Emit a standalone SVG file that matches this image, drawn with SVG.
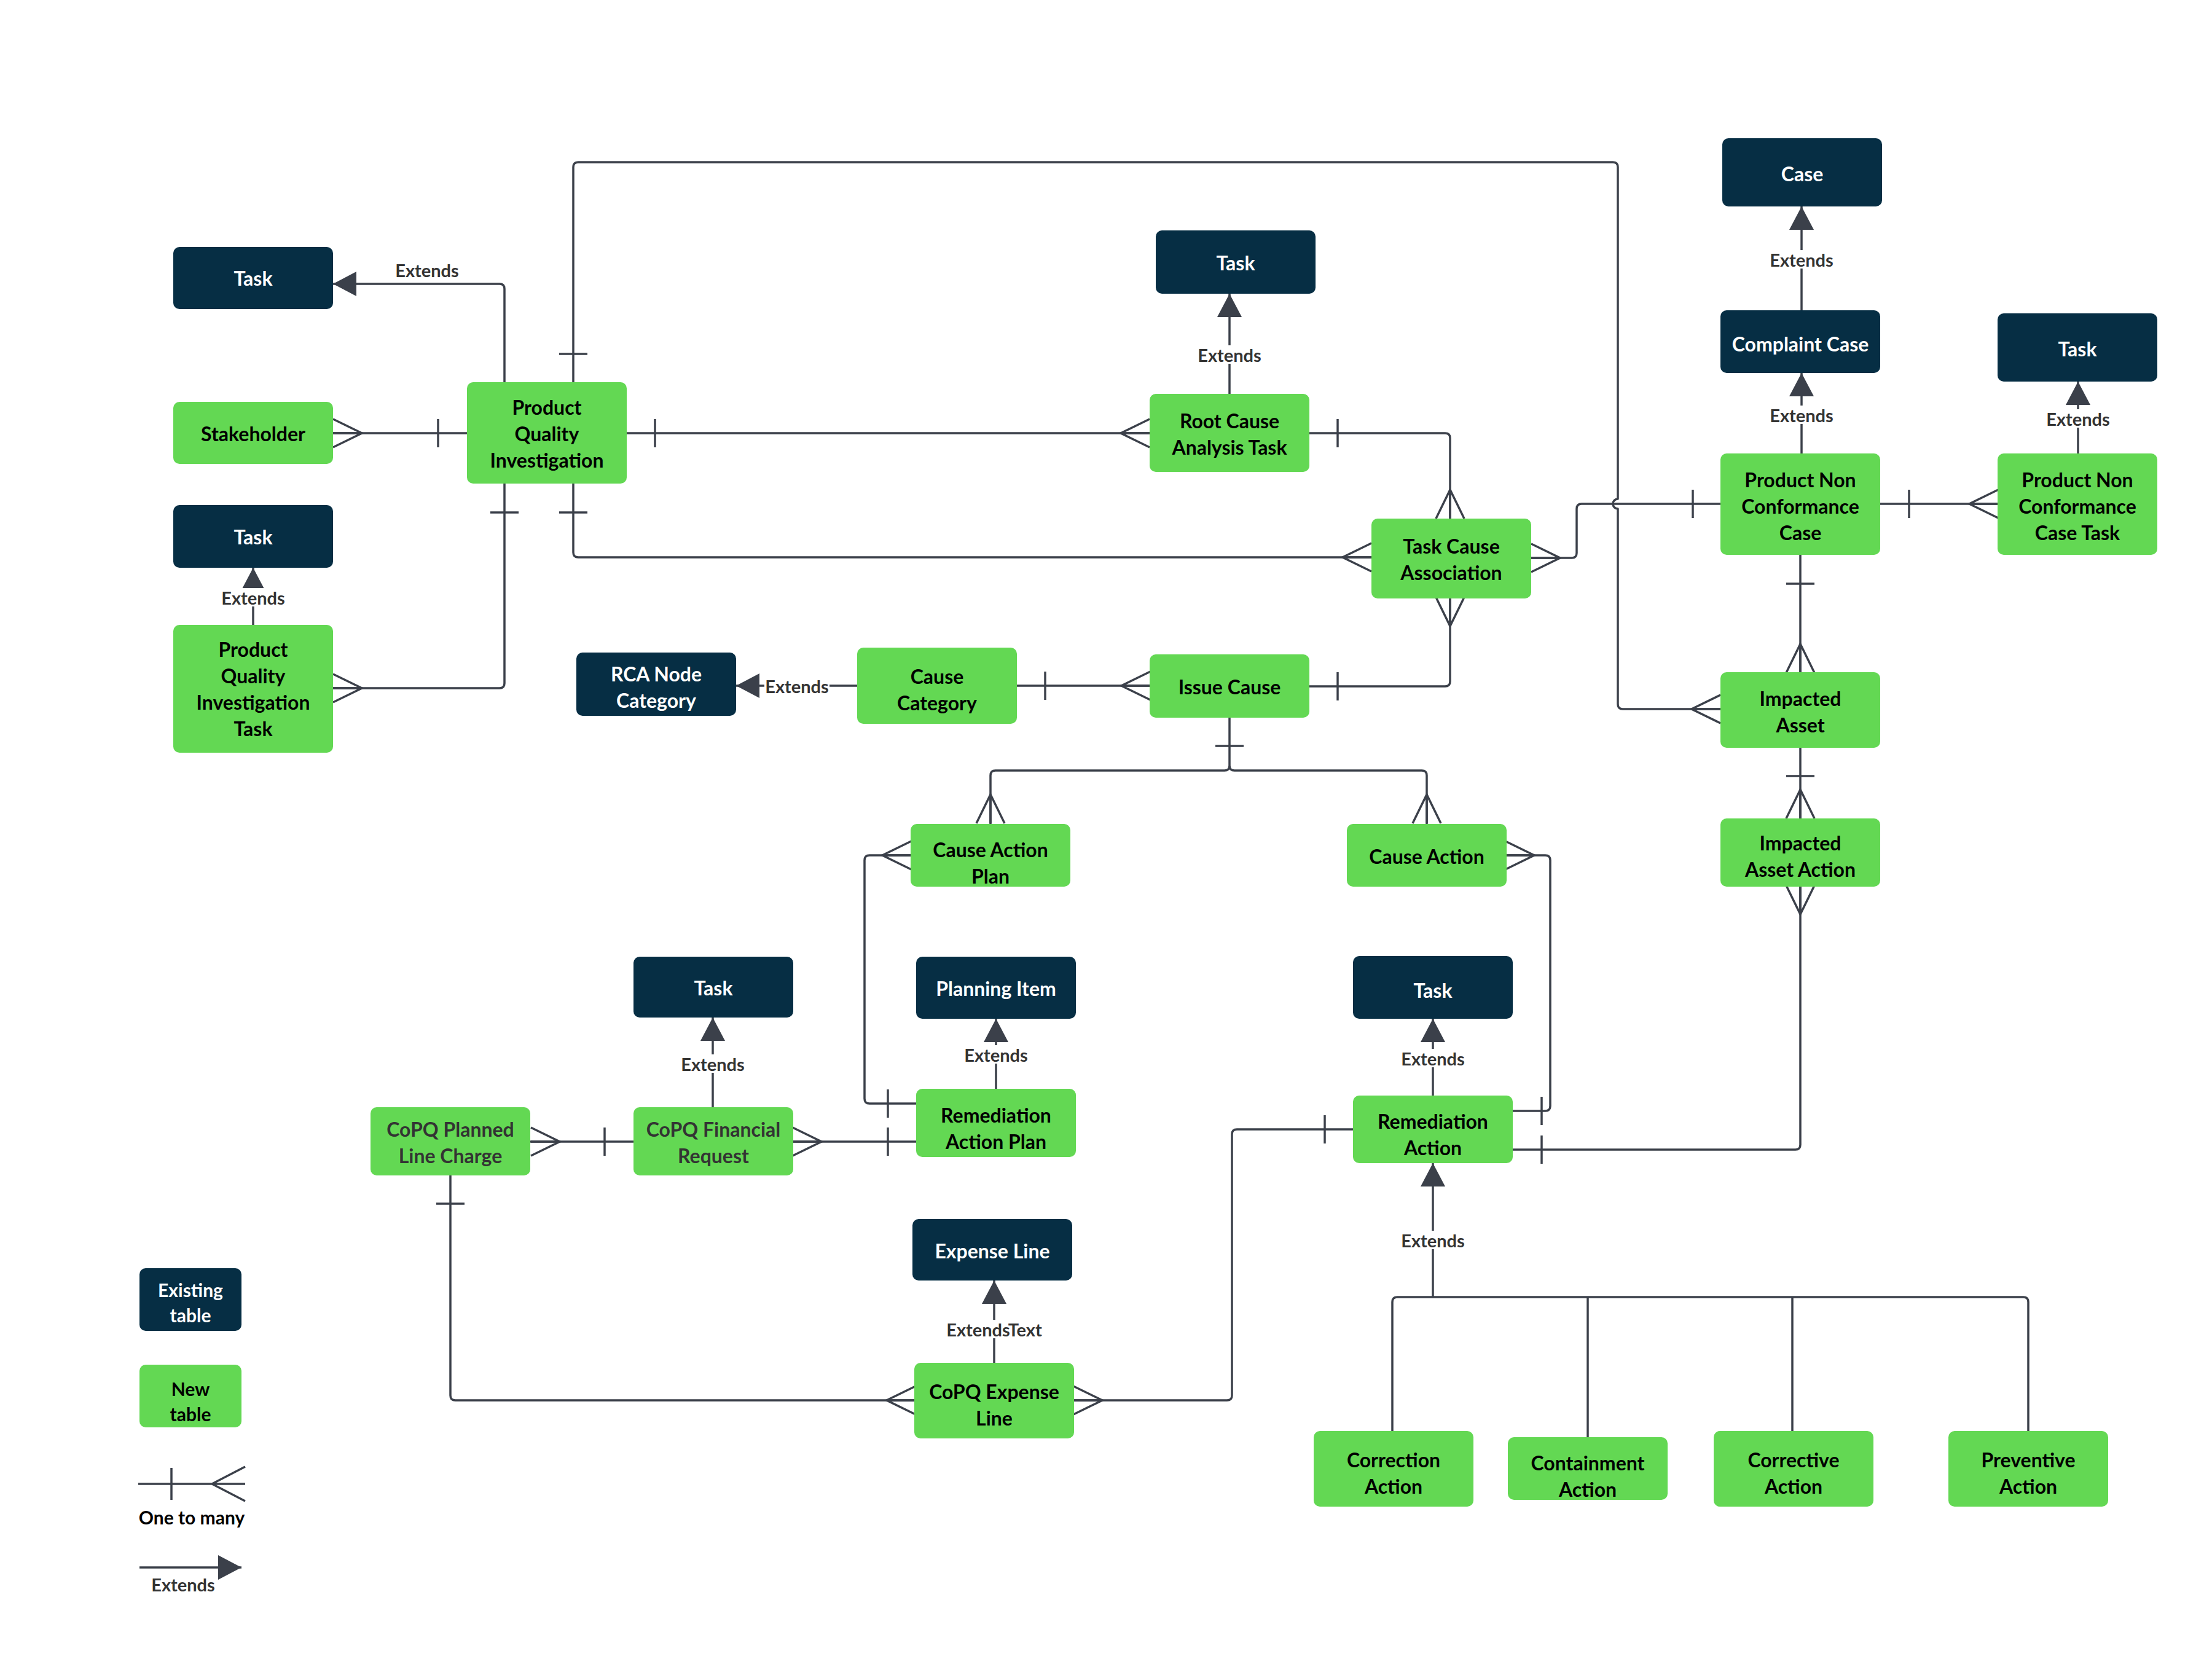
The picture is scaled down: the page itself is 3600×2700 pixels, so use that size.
<svg xmlns="http://www.w3.org/2000/svg" xmlns:xlink="http://www.w3.org/1999/xlink" width="3600" height="2700" viewBox="0 0 3600 2700">
<style>
.dark{fill:#062e44}
.green{fill:#63d853}
.node text{font-family:"Lato","Liberation Sans",sans-serif;font-weight:700;font-size:32px;text-anchor:middle;dominant-baseline:central}
.tw{fill:#ffffff}
.tb{fill:#000000}
.tg{fill:#333333}
.ln{fill:none;stroke:#3b404a;stroke-width:3.5;stroke-linejoin:round}
.lbl{font-family:"Lato","Liberation Sans",sans-serif;font-weight:700;font-size:29px;fill:#333333;text-anchor:middle;dominant-baseline:central}
.bg{fill:#ffffff}
</style>
<defs>
<marker id="ext" markerUnits="userSpaceOnUse" viewBox="0 0 38 40" refX="38" refY="20" markerWidth="38" markerHeight="40" orient="auto">
<path d="M0,0 L38,20 L0,40 Z" fill="#3b404a"/>
</marker>
<path id="crow" d="M47,-23 L0,0 L47,23 M0,0 H47" fill="none" stroke="#3b404a" stroke-width="3.5"/>
<path id="tick" d="M0,-23 V23" fill="none" stroke="#3b404a" stroke-width="3.5"/>
</defs>
<rect width="3600" height="2700" fill="#ffffff"/>

<g id="connectors">
<path class="ln" d="M821,622 V470 Q821,462 813,462 H542" marker-end="url(#ext)"/>
<text class="lbl" x="695" y="439">Extends</text>
<path class="ln" d="M542,705 H760"/>
<use href="#crow" transform="translate(589,705) rotate(180)"/>
<use href="#tick" transform="translate(713,705)"/>
<path class="ln" d="M1020,705 H1871"/>
<use href="#tick" transform="translate(1066,705)"/>
<use href="#crow" transform="translate(1824,705)"/>
<path class="ln" d="M821,787 V1112 Q821,1120 813,1120 H542"/>
<use href="#tick" transform="translate(821,834) rotate(90)"/>
<use href="#crow" transform="translate(589,1120) rotate(180)"/>
<path class="ln" d="M933,787 V899 Q933,907 941,907 H2232"/>
<use href="#tick" transform="translate(933,834) rotate(90)"/>
<use href="#crow" transform="translate(2185,907)"/>
<path class="ln" d="M933,622 V272 Q933,264 941,264 H2625 Q2633,264 2633,272 V812 A8,8 0 0 0 2633,828 V1146 Q2633,1154 2641,1154 H2800"/>
<use href="#tick" transform="translate(933,576) rotate(90)"/>
<use href="#crow" transform="translate(2753,1154)"/>
<path class="ln" d="M2131,705 H2352 Q2360,705 2360,713 V844"/>
<use href="#tick" transform="translate(2177,705)"/>
<use href="#crow" transform="translate(2360,797) rotate(90)"/>
<path class="ln" d="M2491,908 H2558 Q2566,908 2566,900 V828 Q2566,820 2574,820 H2800"/>
<use href="#crow" transform="translate(2539,908) rotate(180)"/>
<use href="#tick" transform="translate(2755,820)"/>
<path class="ln" d="M2360,974 V1109 Q2360,1117 2352,1117 H2131"/>
<use href="#crow" transform="translate(2360,1019) rotate(-90)"/>
<use href="#tick" transform="translate(2177,1117)"/>
<path class="ln" d="M1655,1116 H1871"/>
<use href="#tick" transform="translate(1701,1116)"/>
<use href="#crow" transform="translate(1825,1116)"/>
<path class="ln" d="M1395,1116 H1198" marker-end="url(#ext)"/>
<rect class="bg" x="1244" y="1100" width="106" height="32"/>
<text class="lbl" x="1297" y="1116">Extends</text>
<path class="ln" d="M2001,1168 V1246 Q2001,1254 1993,1254 H1620 Q1612,1254 1612,1262 V1341 M2001,1246 Q2001,1254 2009,1254 H2314 Q2322,1254 2322,1262 V1341"/>
<use href="#tick" transform="translate(2001,1214) rotate(90)"/>
<use href="#crow" transform="translate(1612,1293) rotate(90)"/>
<use href="#crow" transform="translate(2322,1293) rotate(90)"/>
<path class="ln" d="M1482,1392 H1415 Q1407,1392 1407,1400 V1788 Q1407,1796 1415,1796 H1491"/>
<use href="#crow" transform="translate(1436,1392)"/>
<use href="#tick" transform="translate(1445,1796)"/>
<path class="ln" d="M2452,1392 H2515 Q2523,1392 2523,1400 V1800 Q2523,1808 2515,1808 H2462"/>
<use href="#crow" transform="translate(2497,1392) rotate(180)"/>
<use href="#tick" transform="translate(2509,1808)"/>
<path class="ln" d="M2930,903 V1094"/>
<use href="#tick" transform="translate(2930,950) rotate(90)"/>
<use href="#crow" transform="translate(2930,1048) rotate(90)"/>
<path class="ln" d="M2930,1217 V1332"/>
<use href="#tick" transform="translate(2930,1263) rotate(90)"/>
<use href="#crow" transform="translate(2930,1285) rotate(90)"/>
<path class="ln" d="M2930,1443 V1863 Q2930,1871 2922,1871 H2462"/>
<use href="#crow" transform="translate(2930,1488) rotate(-90)"/>
<use href="#tick" transform="translate(2509,1871)"/>
<path class="ln" d="M3060,820 H3251"/>
<use href="#tick" transform="translate(3107,820)"/>
<use href="#crow" transform="translate(3205,820)"/>
<path class="ln" d="M863,1858 H1031"/>
<use href="#crow" transform="translate(911,1858) rotate(180)"/>
<use href="#tick" transform="translate(984,1858)"/>
<path class="ln" d="M1290,1858 H1491"/>
<use href="#crow" transform="translate(1337,1858) rotate(180)"/>
<use href="#tick" transform="translate(1445,1858)"/>
<path class="ln" d="M733,1913 V2271 Q733,2279 741,2279 H1488"/>
<use href="#tick" transform="translate(733,1959) rotate(90)"/>
<use href="#crow" transform="translate(1443,2279)"/>
<path class="ln" d="M1747,2279 H1997 Q2005,2279 2005,2271 V1846 Q2005,1838 2013,1838 H2202"/>
<use href="#crow" transform="translate(1794,2279) rotate(180)"/>
<use href="#tick" transform="translate(2156,1838)"/>

<path class="ln" d="M412,1017 V924" marker-end="url(#ext)"/>
<rect class="bg" x="359" y="957" width="106" height="30"/>
<text class="lbl" x="412" y="972">Extends</text>
<path class="ln" d="M2001,641 V478" marker-end="url(#ext)"/>
<rect class="bg" x="1948" y="562" width="106" height="30"/>
<text class="lbl" x="2001" y="577">Extends</text>
<path class="ln" d="M2932,505 V336" marker-end="url(#ext)"/>
<rect class="bg" x="2879" y="407" width="106" height="30"/>
<text class="lbl" x="2932" y="422">Extends</text>
<path class="ln" d="M2932,738 V607" marker-end="url(#ext)"/>
<rect class="bg" x="2879" y="660" width="106" height="30"/>
<text class="lbl" x="2932" y="675">Extends</text>
<path class="ln" d="M3382,738 V621" marker-end="url(#ext)"/>
<rect class="bg" x="3329" y="666" width="106" height="30"/>
<text class="lbl" x="3382" y="681">Extends</text>
<path class="ln" d="M1160,1802 V1656" marker-end="url(#ext)"/>
<rect class="bg" x="1107" y="1716" width="106" height="30"/>
<text class="lbl" x="1160" y="1731">Extends</text>
<path class="ln" d="M1621,1772 V1658" marker-end="url(#ext)"/>
<rect class="bg" x="1568" y="1701" width="106" height="30"/>
<text class="lbl" x="1621" y="1716">Extends</text>
<path class="ln" d="M2332,1783 V1658" marker-end="url(#ext)"/>
<rect class="bg" x="2279" y="1707" width="106" height="30"/>
<text class="lbl" x="2332" y="1722">Extends</text>
<path class="ln" d="M1618,2218 V2084" marker-end="url(#ext)"/>
<rect class="bg" x="1538" y="2148" width="160" height="30"/>
<text class="lbl" x="1618" y="2163">ExtendsText</text>
<path class="ln" d="M2332,2111 V1893" marker-end="url(#ext)"/>
<rect class="bg" x="2279" y="2003" width="106" height="30"/>
<text class="lbl" x="2332" y="2018">Extends</text>
<path class="ln" d="M2266,2329 V2119 Q2266,2111 2274,2111 H3293 Q3301,2111 3301,2119 V2329 M2584,2111 V2339 M2917,2111 V2329"/>
</g>

<g id="task-1" class="node"><rect class="dark" x="282" y="402" width="260" height="101" rx="10"/><text class="tw" x="412" y="452">Task</text></g>
<g id="stakeholder" class="node"><rect class="green" x="282" y="654" width="260" height="101" rx="10"/><text class="tb" x="412" y="705">Stakeholder</text></g>
<g id="task-2" class="node"><rect class="dark" x="282" y="822" width="260" height="102" rx="10"/><text class="tw" x="412" y="873">Task</text></g>
<g id="pqi-task" class="node"><rect class="green" x="282" y="1017" width="260" height="208" rx="10"/><text class="tb" x="412" y="1056">Product</text><text class="tb" x="412" y="1099">Quality</text><text class="tb" x="412" y="1142">Investigation</text><text class="tb" x="412" y="1185">Task</text></g>
<g id="pqi" class="node"><rect class="green" x="760" y="622" width="260" height="165" rx="10"/><text class="tb" x="890" y="662">Product</text><text class="tb" x="890" y="705">Quality</text><text class="tb" x="890" y="748">Investigation</text></g>
<g id="task-rca" class="node"><rect class="dark" x="1881" y="375" width="260" height="103" rx="10"/><text class="tw" x="2011" y="427">Task</text></g>
<g id="rca-task" class="node"><rect class="green" x="1871" y="641" width="260" height="127" rx="10"/><text class="tb" x="2001" y="684">Root Cause</text><text class="tb" x="2001" y="727">Analysis Task</text></g>
<g id="tca" class="node"><rect class="green" x="2232" y="844" width="260" height="130" rx="10"/><text class="tb" x="2362" y="888">Task Cause</text><text class="tb" x="2362" y="931">Association</text></g>
<g id="case" class="node"><rect class="dark" x="2803" y="225" width="260" height="111" rx="10"/><text class="tw" x="2933" y="282">Case</text></g>
<g id="complaint-case" class="node"><rect class="dark" x="2800" y="505" width="260" height="102" rx="10"/><text class="tw" x="2930" y="559">Complaint Case</text></g>
<g id="pnc-case" class="node"><rect class="green" x="2800" y="738" width="260" height="165" rx="10"/><text class="tb" x="2930" y="780">Product Non</text><text class="tb" x="2930" y="823">Conformance</text><text class="tb" x="2930" y="866">Case</text></g>
<g id="task-pnc" class="node"><rect class="dark" x="3251" y="510" width="260" height="111" rx="10"/><text class="tw" x="3381" y="567">Task</text></g>
<g id="pnc-case-task" class="node"><rect class="green" x="3251" y="738" width="260" height="165" rx="10"/><text class="tb" x="3381" y="780">Product Non</text><text class="tb" x="3381" y="823">Conformance</text><text class="tb" x="3381" y="866">Case Task</text></g>
<g id="impacted-asset" class="node"><rect class="green" x="2800" y="1094" width="260" height="123" rx="10"/><text class="tb" x="2930" y="1136">Impacted</text><text class="tb" x="2930" y="1179">Asset</text></g>
<g id="impacted-asset-action" class="node"><rect class="green" x="2800" y="1332" width="260" height="111" rx="10"/><text class="tb" x="2930" y="1371">Impacted</text><text class="tb" x="2930" y="1414">Asset Action</text></g>
<g id="rca-node-category" class="node"><rect class="dark" x="938" y="1062" width="260" height="103" rx="10"/><text class="tw" x="1068" y="1096">RCA Node</text><text class="tw" x="1068" y="1139">Category</text></g>
<g id="cause-category" class="node"><rect class="green" x="1395" y="1054" width="260" height="124" rx="10"/><text class="tb" x="1525" y="1100">Cause</text><text class="tb" x="1525" y="1143">Category</text></g>
<g id="issue-cause" class="node"><rect class="green" x="1871" y="1065" width="260" height="103" rx="10"/><text class="tb" x="2001" y="1117">Issue Cause</text></g>
<g id="cause-action-plan" class="node"><rect class="green" x="1482" y="1341" width="260" height="102" rx="10"/><text class="tb" x="1612" y="1382">Cause Action</text><text class="tb" x="1612" y="1425">Plan</text></g>
<g id="cause-action" class="node"><rect class="green" x="2192" y="1341" width="260" height="102" rx="10"/><text class="tb" x="2322" y="1393">Cause Action</text></g>
<g id="task-cfr" class="node"><rect class="dark" x="1031" y="1557" width="260" height="99" rx="10"/><text class="tw" x="1161" y="1607">Task</text></g>
<g id="planning-item" class="node"><rect class="dark" x="1491" y="1557" width="260" height="101" rx="10"/><text class="tw" x="1621" y="1608">Planning Item</text></g>
<g id="copq-planned-line-charge" class="node"><rect class="green" x="603" y="1802" width="260" height="111" rx="10"/><text class="tg" x="733" y="1837">CoPQ Planned</text><text class="tg" x="733" y="1880">Line Charge</text></g>
<g id="copq-financial-request" class="node"><rect class="green" x="1031" y="1802" width="260" height="111" rx="10"/><text class="tg" x="1161" y="1837">CoPQ Financial</text><text class="tg" x="1161" y="1880">Request</text></g>
<g id="remediation-action-plan" class="node"><rect class="green" x="1491" y="1772" width="260" height="111" rx="10"/><text class="tb" x="1621" y="1814">Remediation</text><text class="tb" x="1621" y="1857">Action Plan</text></g>
<g id="expense-line" class="node"><rect class="dark" x="1485" y="1984" width="260" height="100" rx="10"/><text class="tw" x="1615" y="2035">Expense Line</text></g>
<g id="copq-expense-line" class="node"><rect class="green" x="1488" y="2218" width="260" height="123" rx="10"/><text class="tb" x="1618" y="2264">CoPQ Expense</text><text class="tb" x="1618" y="2307">Line</text></g>
<g id="task-ra" class="node"><rect class="dark" x="2202" y="1556" width="260" height="102" rx="10"/><text class="tw" x="2332" y="1611">Task</text></g>
<g id="remediation-action" class="node"><rect class="green" x="2202" y="1783" width="260" height="110" rx="10"/><text class="tb" x="2332" y="1824">Remediation</text><text class="tb" x="2332" y="1867">Action</text></g>
<g id="correction-action" class="node"><rect class="green" x="2138" y="2329" width="260" height="123" rx="10"/><text class="tb" x="2268" y="2375">Correction</text><text class="tb" x="2268" y="2418">Action</text></g>
<g id="containment-action" class="node"><rect class="green" x="2454" y="2339" width="260" height="102" rx="10"/><text class="tb" x="2584" y="2380">Containment</text><text class="tb" x="2584" y="2423">Action</text></g>
<g id="corrective-action" class="node"><rect class="green" x="2789" y="2329" width="260" height="123" rx="10"/><text class="tb" x="2919" y="2375">Corrective</text><text class="tb" x="2919" y="2418">Action</text></g>
<g id="preventive-action" class="node"><rect class="green" x="3171" y="2329" width="260" height="123" rx="10"/><text class="tb" x="3301" y="2375">Preventive</text><text class="tb" x="3301" y="2418">Action</text></g>

<g id="legend">
<g id="legend-existing" class="node"><rect class="dark" x="227" y="2064" width="166" height="102" rx="10"/><text class="tw" x="310" y="2099" style="font-size:30px">Existing</text><text class="tw" x="310" y="2140" style="font-size:30px">table</text></g>
<g id="legend-new" class="node"><rect class="green" x="227" y="2221" width="166" height="102" rx="10"/><text class="tb" x="310" y="2260" style="font-size:30px">New</text><text class="tb" x="310" y="2301" style="font-size:30px">table</text></g>
<path class="ln" d="M225,2415 H399 M279,2389 V2441 M399,2387 L345,2415 L399,2443"/>
<text x="312" y="2469" style="font-family:'Lato','Liberation Sans',sans-serif;font-weight:700;font-size:30px;fill:#000;text-anchor:middle;dominant-baseline:central">One to many</text>
<path class="ln" d="M227,2551 H393" marker-end="url(#ext)"/>
<text class="lbl" x="298" y="2578">Extends</text>
</g>
</svg>
